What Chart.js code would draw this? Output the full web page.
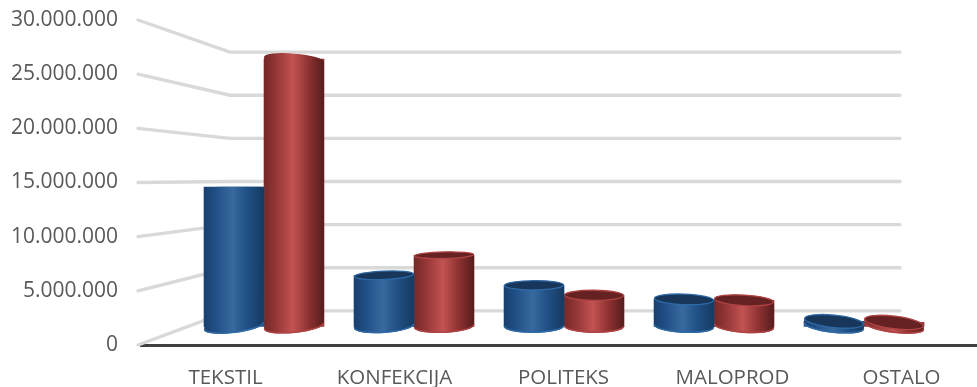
<!DOCTYPE html>
<html>
<head>
<meta charset="utf-8">
<title>Prodaja po segmentima</title>
<script src="https://cdn.jsdelivr.net/npm/chart.js@4"></script>
<style>
  html, body { margin: 0; background: #fff; overflow: hidden; }
  canvas { display: block; }
</style>
</head>
<body>
<canvas id="salesChart" width="1000" height="387"></canvas>
<script>
const categories = ['TEKSTIL', 'KONFEKCIJA', 'POLITEKS', 'MALOPROD', 'OSTALO'];
const seriesBlue = [14330000, 5260000, 4230000, 2780000, 520000];
const seriesRed  = [27470000, 7320000, 3200000, 2680000, 410000];
const TICK_MAX  = 30000000;
const TICK_STEP = 5000000;

const fmtDots = v => String(v).replace(/\B(?=(\d{3})+$)/g, '.');

const BLUE = {
  body: [[0, '#1a3f6c'], [0.18, '#1f4e85'], [0.48, '#386a9f'], [0.72, '#205085'], [1, '#163a60']],
  cap: '#17365a', rim: '#2f6aa6',
};
const RED = {
  body: [[0, '#742828'], [0.2, '#943636'], [0.48, '#c25352'], [0.74, '#8f3232'], [1, '#561c1c']],
  cap: '#662222', rim: '#b04444',
};

// flat wall behind the bars: slanted side lines plus horizontal back lines
const wallPlugin = {
  id: 'wall',
  beforeDatasetsDraw(chart) {
    const { ctx, chartArea, scales } = chart;
    const frontX = chartArea.left - 3;
    const backX = 230;
    const endX = 900;
    ctx.save();
    ctx.strokeStyle = '#d9d9d9';
    ctx.lineWidth = 3.4;
    ctx.lineCap = 'round';
    ctx.lineJoin = 'round';
    for (let v = 0; v <= TICK_MAX; v += TICK_STEP) {
      const backY = scales.yBack.getPixelForValue(v);
      ctx.beginPath();
      ctx.moveTo(frontX, scales.y.getPixelForValue(v));
      ctx.lineTo(backX, backY);
      ctx.lineTo(endX, backY);
      ctx.stroke();
    }
    ctx.restore();
  },
};

// turns each flat bar element into a cylinder, ellipses open up with distance from eye level
const cylinderPlugin = {
  id: 'cylinder',
  afterDatasetDraw(chart, args) {
    const { ctx, scales } = chart;
    const meta = chart.getDatasetMeta(args.index);
    const look = args.index === 0 ? BLUE : RED;
    const eyeY = scales.y.getPixelForValue(15000000);
    const midX = scales.xBars.getPixelForValue(2);

    meta.data.forEach(bar => {
      const { x, y, base, width } = bar.getProps(['x', 'y', 'base', 'width'], true);
      const rx = width / 2;
      const ryTop = Math.abs(y - eyeY) * 0.045;
      const ryBase = Math.abs(base - eyeY) * 0.045;
      const rotTop = (x - midX) * (y - eyeY) * 2.6e-6;
      const rotBase = (x - midX) * (base - eyeY) * 2.6e-6;

      const grad = ctx.createLinearGradient(x - rx, 0, x + rx, 0);
      look.body.forEach(([stop, color]) => grad.addColorStop(stop, color));

      ctx.save();
      ctx.beginPath();
      ctx.ellipse(x, y, rx, ryTop, rotTop, Math.PI, Math.PI * 2);
      ctx.ellipse(x, base, rx, ryBase, rotBase, 0, Math.PI);
      ctx.closePath();
      ctx.fillStyle = grad;
      ctx.fill();

      // light edge along the bottom
      ctx.beginPath();
      ctx.ellipse(x, base - 0.7, rx - 0.3, ryBase, rotBase, 0, Math.PI);
      ctx.strokeStyle = look.rim;
      ctx.lineWidth = 1.5;
      ctx.stroke();

      // the top is only seen from above when it sits below eye level
      if (y > eyeY + 10) {
        ctx.beginPath();
        ctx.ellipse(x, y, rx - 0.5, ryTop, rotTop, 0, Math.PI * 2);
        ctx.fillStyle = look.cap;
        ctx.fill();
        ctx.strokeStyle = look.rim;
        ctx.lineWidth = 1.3;
        ctx.stroke();
      }
      ctx.restore();
    });
  },
};

function toPoints(values) {
  return values.map((v, i) => ({ x: i, y: v }));
}

new Chart(document.getElementById('salesChart').getContext('2d'), {
  type: 'bar',
  data: {
    labels: categories,
    datasets: [
      { data: toPoints(seriesBlue), backgroundColor: '#20508a', xAxisID: 'xBars', yAxisID: 'yBars' },
      { data: toPoints(seriesRed),  backgroundColor: '#943636', xAxisID: 'xBars', yAxisID: 'yBars' },
    ],
  },
  options: {
    responsive: false,
    animation: false,
    layout: { padding: { top: 20, right: 14, left: 0, bottom: 0 } },
    datasets: { bar: { barThickness: 60 } },
    plugins: { legend: { display: false }, tooltip: { enabled: false } },
    scales: {
      x: {
        type: 'category',
        position: 'bottom',
        grid: { display: false },
        border: { color: '#404040', width: 3 },
        afterFit: axis => { axis.height = 42; },
        ticks: {
          color: '#595959',
          font: { family: 'Open Sans', size: 20.5 },
          padding: 13,
          maxRotation: 0,
          autoSkip: false,
        },
      },
      y: {
        position: 'left',
        min: 0,
        max: TICK_MAX,
        grid: { display: false },
        border: { display: false },
        afterFit: axis => { axis.width = 141; axis.paddingTop = 0; axis.paddingBottom = 0; },
        ticks: {
          stepSize: TICK_STEP,
          color: '#595959',
          font: { family: 'Open Sans', size: 21 },
          padding: 15,
          callback: v => fmtDots(v),
        },
      },
      // bars stand between the front edge and the back wall, so they get their own ranges
      xBars: { type: 'linear', axis: 'x', display: false, offset: false, min: -0.82, max: 4.813 },
      yBars: { axis: 'y', display: false, min: -1908000, max: 31495000 },
      yBack: { axis: 'y', display: false, min: -3953000, max: 33720000 },
    },
  },
  plugins: [wallPlugin, cylinderPlugin],
});
</script>
</body>
</html>
